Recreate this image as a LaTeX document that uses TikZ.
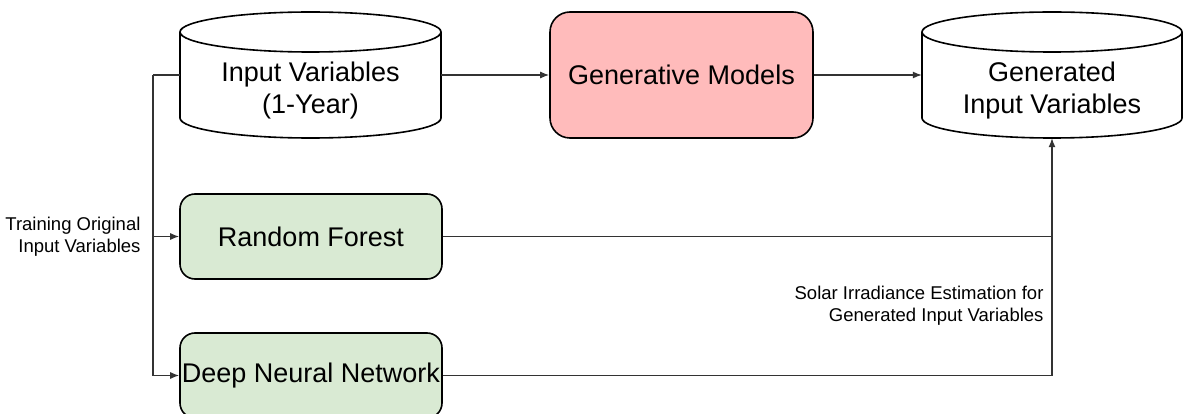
\documentclass[tikz,border=0pt]{standalone}
\usepackage{fontspec}
\setmainfont{Liberation Sans}
\usetikzlibrary{arrows.meta}
\definecolor{pinkfill}{HTML}{FFBBBB}
\definecolor{greenfill}{HTML}{D9EAD3}
\definecolor{linegray}{HTML}{333333}
\begin{document}
\begin{tikzpicture}[x=1pt,y=-1pt,
  bigtext/.style={font=\fontsize{27}{32}\selectfont, align=center},
  smalltext/.style={font=\fontsize{18.5}{22}\selectfont, align=right},
  shell/.style={draw=none, fill=none, rectangle, inner sep=0pt},
  cylbody/.style={draw=black, line width=1.6pt, fill=white},
  modelbox/.style={draw=black, line width=1.6pt, rectangle, inner sep=0pt},
  conn/.style={draw=linegray, line width=1.2pt},
  arr/.style={conn, -{Latex[length=9pt,width=7pt]}}
]
\useasboundingbox (0,0) rectangle (1184,414);

% Input cylinder
\path[cylbody] (180,32) -- (180,118) arc[start angle=180,end angle=0,x radius=130.5,y radius=20]
  -- (441,32) arc[start angle=0,end angle=-180,x radius=130.5,y radius=20] -- cycle;
\draw[line width=1.6pt] (180,32) arc[start angle=180,end angle=0,x radius=130.5,y radius=20];
\node[shell, minimum width=261pt, minimum height=126pt] (in) at (310.5,75) {};
\node[bigtext] (intext) at (310.5,91) {Input Variables\\(1-Year)};

% Generated cylinder
\path[cylbody] (922,32) -- (922,118) arc[start angle=180,end angle=0,x radius=130,y radius=20]
  -- (1182,32) arc[start angle=0,end angle=-180,x radius=130,y radius=20] -- cycle;
\draw[line width=1.6pt] (922,32) arc[start angle=180,end angle=0,x radius=130,y radius=20];
\node[shell, minimum width=260pt, minimum height=126pt] (out) at (1052,75) {};
\node[bigtext] (outtext) at (1052,91) {Generated\\Input Variables};

% Generative models
\node[modelbox, fill=pinkfill, rounded corners=20pt, minimum width=263pt, minimum height=126pt, bigtext] (gen) at (681.5,75) {Generative Models};

% Random forest and DNN
\node[modelbox, fill=greenfill, rounded corners=15pt, minimum width=262pt, minimum height=85pt, bigtext] (rf) at (311,236.5) {Random Forest};
\node[modelbox, fill=greenfill, rounded corners=15pt, minimum width=262pt, minimum height=85pt, bigtext] (dnn) at (311,375.5) {Deep Neural Network};

% Connectors
\coordinate (split) at (153,75);
\coordinate (join) at (1052,236.5);
\draw[arr] (in.east) -- (gen.west);
\draw[arr] (gen.east) -- (out.west);
\draw[conn] (in.west) -- (split);
\draw[arr] (split) |- (rf.west);
\draw[arr] (split) |- (dnn.west);
\draw[arr] (rf.east) -| (out.south);
\draw[conn] (dnn.east) -| (join);

% Labels
\node[smalltext, anchor=east] (trainlbl) at (144,236.5) {Training Original\\Input Variables};
\node[smalltext, anchor=east] (solarlbl) at (1047,306) {Solar Irradiance Estimation for\\Generated Input Variables};
\end{tikzpicture}
\end{document}
